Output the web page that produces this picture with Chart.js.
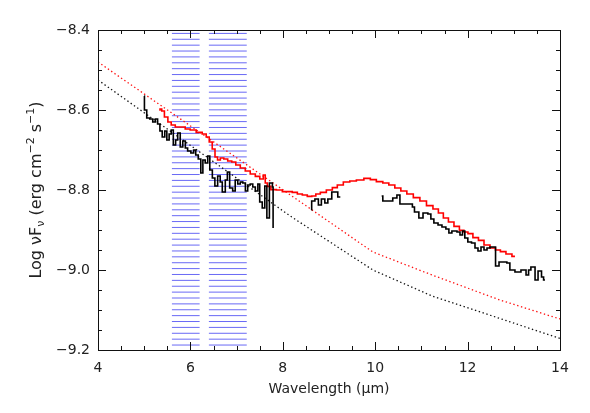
<!DOCTYPE html>
<html>
<head>
<meta charset="utf-8">
<script src="https://cdn.jsdelivr.net/npm/chart.js@4.4.0/dist/chart.umd.min.js"></script>
<style>
html,body{margin:0;padding:0;background:#fff;}
#wrap{width:590px;height:413px;}
</style>
</head>
<body>
<div id="wrap"><canvas id="sed" width="590" height="413"></canvas></div>
<script>
// observed spectrum, short-wavelength piece (step histogram)
const blackSeg1X = [5.00,5.005,5.055,5.12,5.185,5.24,5.29,5.34,5.39,5.445,5.49,5.54,5.585,5.63,5.68,5.725,5.78,5.835,5.89,5.94,6.01,6.07,6.115,6.17,6.225,6.27,6.32,6.375,6.42,6.475,6.53,6.59,6.645,6.69,6.755,6.80,6.85,6.915,6.97,7.025,7.08,7.135,7.19,7.24,7.295,7.35,7.405,7.46,7.50,7.555,7.61,7.655,7.71,7.775,7.79];
const blackSeg1Y = [-8.565,-8.60,-8.62,-8.6225,-8.63,-8.6225,-8.635,-8.6525,-8.6675,-8.6525,-8.675,-8.66,-8.65,-8.6875,-8.675,-8.6575,-8.6925,-8.6775,-8.695,-8.7025,-8.7075,-8.70,-8.7125,-8.7225,-8.7575,-8.725,-8.7325,-8.715,-8.75,-8.77,-8.79,-8.765,-8.78,-8.805,-8.775,-8.755,-8.795,-8.8025,-8.775,-8.785,-8.78,-8.7825,-8.8025,-8.7875,-8.785,-8.7925,-8.8025,-8.785,-8.83,-8.845,-8.79,-8.87,-8.7825,-8.7925,-8.895];

const blackSeg2X = [8.62,8.625,8.695,8.77,8.835,8.91,8.975,9.06,9.19,9.245];
const blackSeg2Y = [-8.85,-8.8275,-8.8225,-8.8375,-8.8225,-8.8325,-8.8225,-8.805,-8.8175,-8.8175];

const blackSeg3X = [10.14,10.165,10.38,10.47,10.535,10.805,10.85,10.945,11.035,11.14,11.205,11.27,11.36,11.445,11.53,11.595,11.66,11.77,11.835,11.89,11.94,12.005,12.085,12.16,12.225,12.29,12.355,12.42,12.485,12.605,12.68,12.85,12.915,13.025,13.155,13.265,13.32,13.37,13.46,13.525,13.60,13.645,13.675];
const blackSeg3Y = [-8.815,-8.8275,-8.82,-8.8125,-8.835,-8.8425,-8.855,-8.87,-8.8575,-8.86,-8.8725,-8.8825,-8.8875,-8.8925,-8.8975,-8.9075,-8.9025,-8.905,-8.9125,-8.9025,-8.92,-8.93,-8.9325,-8.945,-8.9525,-8.9425,-8.95,-8.945,-8.9425,-8.99,-8.98,-8.9825,-9.00,-9.005,-9.00,-9.0125,-9.00,-8.9925,-9.025,-9.0025,-9.0175,-9.025,-9.025];

// red spectrum
const redX = [5.325,5.36,5.40,5.475,5.55,5.62,5.725,5.835,5.94,6.05,6.20,6.31,6.375,6.44,6.505,6.56,6.615,6.68,6.765,6.85,6.94,7.025,7.135,7.24,7.35,7.46,7.545,7.61,7.63,7.70,7.785,7.935,8.045,8.15,8.26,8.37,8.475,8.585,8.67,8.76,8.865,9.02,9.125,9.235,9.385,9.515,9.67,9.84,9.95,10.10,10.23,10.36,10.49,10.62,10.75,10.90,11.035,11.185,11.315,11.42,11.53,11.64,11.77,11.875,11.965,12.05,12.18,12.29,12.42,12.55,12.655,12.765,12.895,13.025];
const redY = [-8.60,-8.5975,-8.6025,-8.6175,-8.63,-8.6375,-8.6425,-8.6425,-8.6475,-8.65,-8.656,-8.66,-8.6675,-8.68,-8.6975,-8.7175,-8.725,-8.72,-8.7225,-8.7275,-8.73,-8.7375,-8.745,-8.7525,-8.76,-8.766,-8.7725,-8.7625,-8.7825,-8.791,-8.799,-8.80,-8.804,-8.804,-8.806,-8.81,-8.8125,-8.816,-8.815,-8.81,-8.806,-8.80,-8.794,-8.7875,-8.78,-8.7775,-8.775,-8.771,-8.774,-8.779,-8.7825,-8.7875,-8.795,-8.8025,-8.81,-8.819,-8.8275,-8.839,-8.8475,-8.8575,-8.87,-8.88,-8.891,-8.901,-8.905,-8.909,-8.919,-8.926,-8.9375,-8.945,-8.95,-8.954,-8.96,-8.966];

// dotted model curves
const redModelX = [4, 9.95, 11.23, 12.7, 14];
const redModelY = [-8.48, -8.955, -9.0125, -9.075, -9.1225];
const blackModelX = [4, 8.16, 9.95, 11.23, 14];
const blackModelY = [-8.525, -8.865, -9.0, -9.065, -9.171];

// hatched wavelength bands
const bandRanges = [[5.6, 6.2], [6.4, 7.22]];

const xTicks = [4, 6, 8, 10, 12, 14];
const yTicks = [-9.2, -9.0, -8.8, -8.6, -8.4];

function pts(xs, ys){
    return xs.map((x, i) => ({x: x, y: ys[i]}));
}

const FONT = "'DejaVu Sans', sans-serif";
const TXT = "#222";

const bandHatch = {
    id: "bandHatch",
    beforeDatasetsDraw(chart, args, opts){
        const {ctx, scales: {x, y}} = chart;
        ctx.save();
        ctx.strokeStyle = opts.color;
        ctx.lineWidth = 1;
        ctx.beginPath();
        bandRanges.forEach(([x0, x1]) => {
            const l = x.getPixelForValue(x0), r = x.getPixelForValue(x1);
            for(let v = opts.first; v >= y.min; v -= opts.step){
                const py = y.getPixelForValue(v);
                ctx.moveTo(l, py);
                ctx.lineTo(r, py);
            }
        });
        ctx.stroke();
        ctx.restore();
    }
};

// box around the plot with inward ticks on all sides
const frameTicks = {
    id: "frameTicks",
    afterDraw(chart){
        const {ctx, chartArea: a, scales: {x, y}} = chart;
        ctx.save();
        ctx.strokeStyle = "#111";
        ctx.lineWidth = 1;
        ctx.strokeRect(Math.round(a.left) + 0.5, Math.round(a.top) + 0.5, Math.round(a.right - a.left), Math.round(a.bottom - a.top));
        ctx.beginPath();
        for(let i = 0; i <= 20; i++){
            const v = xTicks[0] + i * 0.5;
            const px = Math.round(x.getPixelForValue(v)) + 0.5;
            const len = i % 4 === 0 ? 8 : 4;
            ctx.moveTo(px, a.bottom); ctx.lineTo(px, a.bottom - len);
            ctx.moveTo(px, a.top); ctx.lineTo(px, a.top + len);
        }
        for(let i = 0; i <= 16; i++){
            const v = yTicks[0] + i * 0.05;
            const py = Math.round(y.getPixelForValue(v)) + 0.5;
            const len = i % 4 === 0 ? 8 : 4;
            ctx.moveTo(a.left, py); ctx.lineTo(a.left + len, py);
            ctx.moveTo(a.right, py); ctx.lineTo(a.right - len, py);
        }
        ctx.stroke();
        ctx.restore();
    }
};

// y title with sub/superscripts
const yTitle = {
    id: "yTitle",
    afterDraw(chart){
        const {ctx, chartArea: a} = chart;
        const parts = [
            {t: "Log ", s: 16, dy: 0},
            {t: "\u03bdF", s: 16, dy: 0},
            {t: "\u03bd", s: 11, dy: 3},
            {t: " (erg cm", s: 16, dy: 0},
            {t: "\u22122", s: 11, dy: -7},
            {t: " s", s: 16, dy: 0},
            {t: "\u22121", s: 11, dy: -7},
            {t: ")", s: 16, dy: 0}
        ];
        ctx.save();
        let total = 0;
        parts.forEach(p => {
            ctx.font = p.s + "px " + FONT;
            p.w = ctx.measureText(p.t).width;
            total += p.w;
        });
        ctx.translate(41, (a.top + a.bottom) / 2);
        ctx.rotate(-Math.PI / 2);
        ctx.fillStyle = TXT;
        ctx.textBaseline = "alphabetic";
        let cx = -total / 2;
        parts.forEach(p => {
            ctx.font = p.s + "px " + FONT;
            ctx.fillText(p.t, cx, p.dy);
            cx += p.w;
        });
        ctx.restore();
    }
};

const stepLine = (data) => ({
    data: data,
    borderColor: "#000",
    borderWidth: 1.6,
    stepped: true,
    pointRadius: 0,
    fill: false
});

const dottedLine = (data, color) => ({
    data: data,
    borderColor: color,
    borderWidth: 1.3,
    borderDash: [1.4, 2.6],
    pointRadius: 0,
    tension: 0,
    fill: false
});

new Chart(document.getElementById("sed"), {
    type: "line",
    data: {
        datasets: [
            stepLine(pts(blackSeg1X, blackSeg1Y)),
            stepLine(pts(blackSeg2X, blackSeg2Y)),
            stepLine(pts(blackSeg3X, blackSeg3Y)),
            {
                data: pts(redX, redY),
                borderColor: "#ff0000",
                borderWidth: 1.6,
                stepped: "middle",
                pointRadius: 0,
                fill: false
            },
            dottedLine(pts(redModelX, redModelY), "#ff1010"),
            dottedLine(pts(blackModelX, blackModelY), "#111")
        ]
    },
    options: {
        responsive: false,
        animation: false,
        devicePixelRatio: 1,
        layout: { padding: { left: 0, top: 30, right: 30, bottom: 0 } },
        plugins: {
            legend: { display: false },
            tooltip: { enabled: false },
            bandHatch: { first: -8.4085, step: 0.0147, color: "rgb(105,105,245)" }
        },
        scales: {
            x: {
                type: "linear",
                min: xTicks[0],
                max: xTicks[xTicks.length - 1],
                afterFit: (s) => { s.height = 63; },
                afterBuildTicks: (s) => { s.ticks = xTicks.map(v => ({value: v})); },
                grid: { display: false, drawTicks: false },
                border: { display: false },
                ticks: {
                    padding: 10,
                    maxRotation: 0,
                    color: TXT,
                    font: { family: FONT, size: 14 },
                    callback: (v) => String(v)
                },
                title: {
                    display: true,
                    text: "Wavelength (\u03bcm)",
                    color: TXT,
                    font: { family: FONT, size: 14 },
                    padding: { top: 0, bottom: 15 }
                }
            },
            y: {
                type: "linear",
                min: yTicks[0],
                max: yTicks[yTicks.length - 1],
                afterFit: (s) => { s.width = 98; },
                afterBuildTicks: (s) => { s.ticks = yTicks.map(v => ({value: v})); },
                grid: { display: false, drawTicks: false },
                border: { display: false },
                ticks: {
                    padding: 8,
                    color: TXT,
                    font: { family: FONT, size: 14 },
                    callback: (v) => v.toFixed(1).replace("-", "\u2212")
                }
            }
        }
    },
    plugins: [bandHatch, frameTicks, yTitle]
});
</script>
</body>
</html>
